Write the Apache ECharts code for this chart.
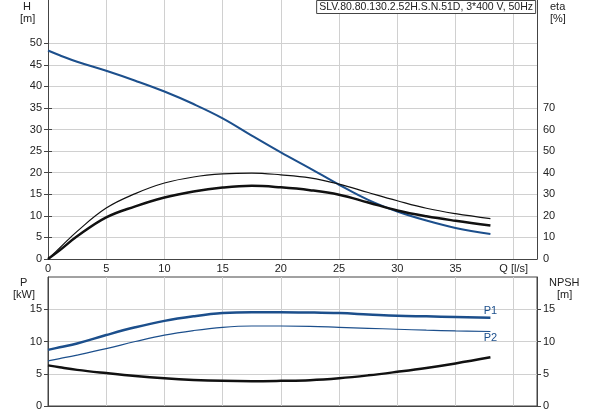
<!DOCTYPE html>
<html>
<head>
<meta charset="utf-8">
<script src="https://cdn.jsdelivr.net/npm/echarts@6/dist/echarts.min.js"></script>
<style>
    html, body { margin: 0; padding: 0; background: #fff; }
    #chart { width: 593px; height: 415px; }
</style>
</head>
<body>
<div id="chart"></div>
<script>
// flow points (l/s)
const flow = [0, 1, 2.5, 5, 7.5, 10, 12.5, 15, 17.5, 20, 22.5, 25, 27.5, 30, 32.5, 35, 38];
// head H [m]
const head = [48.3, 47.2, 45.7, 43.6, 41.3, 38.8, 35.9, 32.6, 28.6, 24.7, 21.0, 17.2, 13.7, 11.0, 8.9, 7.2, 5.8];
// efficiency curves eta [%]
const etaThin = [0, 5.1, 12.8, 23.6, 30.3, 35.2, 38.0, 39.4, 39.8, 39.0, 37.6, 34.7, 30.8, 27.0, 23.5, 21.0, 18.7];
const etaThick = [0, 4.0, 10.5, 19.3, 24.4, 28.5, 31.3, 33.1, 33.9, 33.2, 31.9, 29.8, 26.2, 22.5, 19.8, 17.7, 15.5];
// power P1 / P2 [kW]
const powerP1 = [8.7, 9.1, 9.7, 11.0, 12.2, 13.2, 13.9, 14.4, 14.55, 14.55, 14.5, 14.4, 14.2, 14.0, 13.9, 13.8, 13.7];
const powerP2 = [7.0, 7.35, 7.9, 8.9, 10.0, 11.0, 11.7, 12.2, 12.4, 12.4, 12.35, 12.2, 12.05, 11.9, 11.75, 11.65, 11.55];
// NPSH [m]
const npsh = [6.3, 6.0, 5.6, 5.1, 4.65, 4.3, 4.05, 3.9, 3.85, 3.9, 4.0, 4.3, 4.75, 5.3, 5.9, 6.6, 7.55];

// tick labels
const qTicks = [0, 5, 10, 15, 20, 25, 30, 35, 40];
const hTicks = [0, 5, 10, 15, 20, 25, 30, 35, 40, 45, 50];
const etaTicks = [0, 10, 20, 30, 40, 50, 60, 70];
const pTicks = [0, 5, 10, 15];

const title = 'SLV.80.80.130.2.52H.S.N.51D, 3*400 V, 50Hz';
const blue = '#1c4f8c';
const txt = '#222';
const axisCol = '#444';
const gridCol = '#d0d0d0';
const font = 'Liberation Sans, Arial, sans-serif';

// top plot: H 0..60 over 259px, eta axis (0..70) is a sub grid with the same scale (eta 10 = H 5)
const topH = 259;
const etaH = topH / 60 * 5 / 10 * 70;

function pairs(ys) {
    return flow.map((q, i) => [q, ys[i]]);
}

function withEndLabel(ys, name, pos) {
    let d = pairs(ys);
    let last = d.length - 1;
    d[last] = {
        value: d[last],
        label: { show: true, formatter: name, position: pos, distance: 1, color: blue, fontSize: 11, fontFamily: font }
    };
    return d;
}

const chart = echarts.init(document.getElementById('chart'), null, { renderer: 'canvas' });

const lbl = { color: txt, fontSize: 11, fontFamily: font, margin: 6 };
const line = { show: true, lineStyle: { color: axisCol, width: 1 } };
const split = { show: true, lineStyle: { color: gridCol, width: 1 } };

chart.setOption({
    animation: false,
    backgroundColor: '#fff',
    grid: [
        { left: 48, right: 56, top: 0, height: topH },
        { left: 48, right: 56, top: 277, height: 129, show: true, borderColor: axisCol, borderWidth: 1, backgroundColor: 'transparent' },
        { left: 48, right: 56, top: topH - etaH, height: etaH }
    ],
    xAxis: [
        {
            gridIndex: 0, type: 'value', min: 0, max: 42, interval: 5,
            axisLine: line, axisTick: { show: false }, splitLine: split,
            axisLabel: Object.assign({}, lbl, {
                margin: 4, customValues: qTicks,
                formatter: v => v == 40 ? 'Q [l/s]' : String(v)
            })
        },
        {
            gridIndex: 1, type: 'value', min: 0, max: 42, interval: 5,
            axisLine: line, axisTick: { show: false }, splitLine: split,
            axisLabel: { show: false }
        },
        {
            gridIndex: 2, type: 'value', min: 0, max: 42, show: false
        }
    ],
    yAxis: [
        {
            gridIndex: 0, type: 'value', min: 0, max: 60, interval: 5, position: 'left',
            axisLine: line, splitLine: split,
            axisTick: { show: true, length: 4, lineStyle: { color: axisCol }, customValues: hTicks },
            axisLabel: Object.assign({}, lbl, { customValues: hTicks })
        },
        {
            // right border line of the top plot
            gridIndex: 0, type: 'value', min: 0, max: 60, position: 'right',
            axisLine: line, axisTick: { show: false }, axisLabel: { show: false }, splitLine: { show: false }
        },
        {
            gridIndex: 1, type: 'value', min: 0, max: 20, interval: 5, position: 'left',
            axisLine: line, splitLine: split,
            axisTick: { show: true, length: 4, lineStyle: { color: axisCol }, customValues: pTicks },
            axisLabel: Object.assign({}, lbl, { customValues: pTicks })
        },
        {
            gridIndex: 1, type: 'value', min: 0, max: 20, interval: 5, position: 'right',
            axisLine: line, splitLine: { show: false },
            axisTick: { show: true, length: 4, lineStyle: { color: axisCol }, customValues: pTicks },
            axisLabel: Object.assign({}, lbl, { customValues: pTicks })
        },
        {
            gridIndex: 2, type: 'value', min: 0, max: 70, interval: 10, position: 'right',
            axisLine: { show: false }, splitLine: { show: false },
            axisTick: { show: true, length: 4, lineStyle: { color: axisCol }, customValues: etaTicks },
            axisLabel: Object.assign({}, lbl, { customValues: etaTicks })
        }
    ],
    title: {
        text: title,
        right: 57, top: 0,
        padding: [2, 3, 1, 3],
        borderColor: axisCol, borderWidth: 1,
        backgroundColor: '#fff',
        textStyle: { fontSize: 10.5, fontWeight: 'normal', color: txt, fontFamily: font }
    },
    graphic: [
        { type: 'text', left: 23, top: 1, style: { text: 'H', fontSize: 11, fill: txt, fontFamily: font } },
        { type: 'text', left: 20, top: 13, style: { text: '[m]', fontSize: 11, fill: txt, fontFamily: font } },
        { type: 'text', left: 550, top: 1, style: { text: 'eta', fontSize: 11, fill: txt, fontFamily: font } },
        { type: 'text', left: 550, top: 13, style: { text: '[%]', fontSize: 11, fill: txt, fontFamily: font } },
        { type: 'text', left: 20, top: 277, style: { text: 'P', fontSize: 11, fill: txt, fontFamily: font } },
        { type: 'text', left: 13, top: 289, style: { text: '[kW]', fontSize: 11, fill: txt, fontFamily: font } },
        { type: 'text', left: 549, top: 277, style: { text: 'NPSH', fontSize: 11, fill: txt, fontFamily: font } },
        { type: 'text', left: 557, top: 289, style: { text: '[m]', fontSize: 11, fill: txt, fontFamily: font } }
    ],
    series: [
        {
            name: 'H', type: 'line', xAxisIndex: 0, yAxisIndex: 0,
            data: pairs(head), smooth: 0.4, symbol: 'none',
            lineStyle: { color: blue, width: 2 }
        },
        {
            name: 'eta thin', type: 'line', xAxisIndex: 2, yAxisIndex: 4,
            data: pairs(etaThin), smooth: 0.4, symbol: 'none',
            lineStyle: { color: '#111', width: 1.2 }
        },
        {
            name: 'eta', type: 'line', xAxisIndex: 2, yAxisIndex: 4,
            data: pairs(etaThick), smooth: 0.4, symbol: 'none',
            lineStyle: { color: '#111', width: 2.5 }
        },
        {
            name: 'P1', type: 'line', xAxisIndex: 1, yAxisIndex: 2,
            data: withEndLabel(powerP1, 'P1', 'top'), smooth: 0.4,
            symbol: 'circle', symbolSize: 0, showSymbol: true,
            lineStyle: { color: blue, width: 2.5 }
        },
        {
            name: 'P2', type: 'line', xAxisIndex: 1, yAxisIndex: 2,
            data: withEndLabel(powerP2, 'P2', 'bottom'), smooth: 0.4,
            symbol: 'circle', symbolSize: 0, showSymbol: true,
            lineStyle: { color: blue, width: 1.2 }
        },
        {
            name: 'NPSH', type: 'line', xAxisIndex: 1, yAxisIndex: 3,
            data: pairs(npsh), smooth: 0.4, symbol: 'none',
            lineStyle: { color: '#111', width: 2.5 }
        }
    ]
});
</script>
</body>
</html>
